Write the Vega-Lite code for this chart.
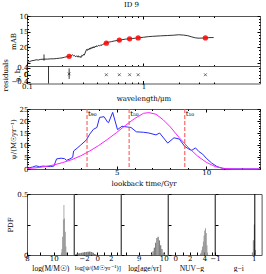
{
"$schema": "https://vega.github.io/schema/vega-lite/v6.json",
"padding": {"left": 0, "top": 0, "right": 2, "bottom": 0},
"title": {"text": "ID 9", "fontSize": 7, "font": "DejaVu Serif", "fontWeight": "normal", "offset": 4, "anchor": "middle"},
"spacing": 2,
"config": {
  "font": "DejaVu Serif",
  "view": {"stroke": "#555", "strokeWidth": 1},
  "axis": {"labelFont": "DejaVu Serif", "titleFont": "DejaVu Serif", "labelFontSize": 7, "titleFontSize": 7, "titleFontWeight": "normal", "labelColor": "#000", "titleColor": "#000", "domain": false, "grid": false, "tickColor": "#000", "tickSize": -3, "labelOverlap": false, "labelFlush": false, "labelBound": false, "labelPadding": 2, "titlePadding": 3}
},
"datasets": {
  "sed": [
    {"w":0.100,"m":24.9},{"w":0.105,"m":24.6},{"w":0.110,"m":24.3},{"w":0.115,"m":24.2},{"w":0.120,"m":24.0},{"w":0.125,"m":24.1},{"w":0.130,"m":23.9},{"w":0.140,"m":23.8},{"w":0.150,"m":23.8},{"w":0.160,"m":23.7},{"w":0.170,"m":23.7},{"w":0.180,"m":23.6},{"w":0.190,"m":23.5},{"w":0.200,"m":23.4},{"w":0.210,"m":23.2},{"w":0.220,"m":23.0},{"w":0.230,"m":22.9},{"w":0.240,"m":22.7},{"w":0.245,"m":22.4},{"w":0.250,"m":22.7},{"w":0.255,"m":22.6},{"w":0.260,"m":23.0},{"w":0.265,"m":22.8},{"w":0.270,"m":23.1},{"w":0.275,"m":22.7},{"w":0.280,"m":23.2},{"w":0.285,"m":22.9},{"w":0.290,"m":23.3},{"w":0.295,"m":22.6},{"w":0.300,"m":22.8},{"w":0.305,"m":22.3},{"w":0.310,"m":22.5},{"w":0.315,"m":21.9},{"w":0.320,"m":21.2},{"w":0.325,"m":20.7},{"w":0.330,"m":21.0},{"w":0.335,"m":20.5},{"w":0.340,"m":20.8},{"w":0.345,"m":20.3},{"w":0.350,"m":20.6},{"w":0.355,"m":20.1},{"w":0.360,"m":20.4},{"w":0.365,"m":19.9},{"w":0.370,"m":20.2},{"w":0.375,"m":19.8},{"w":0.380,"m":20.1},{"w":0.385,"m":19.7},{"w":0.390,"m":19.9},{"w":0.395,"m":19.5},{"w":0.400,"m":19.8},{"w":0.410,"m":19.4},{"w":0.420,"m":19.6},{"w":0.430,"m":19.2},{"w":0.440,"m":19.4},{"w":0.450,"m":19.0},{"w":0.460,"m":18.9},{"w":0.470,"m":18.7},{"w":0.480,"m":18.6},{"w":0.500,"m":18.4},{"w":0.530,"m":18.2},{"w":0.560,"m":18.0},{"w":0.600,"m":17.8},{"w":0.650,"m":17.6},{"w":0.700,"m":17.4},{"w":0.750,"m":17.3},{"w":0.800,"m":17.2},{"w":0.850,"m":17.1},{"w":0.900,"m":17.0},{"w":1.000,"m":16.8},{"w":1.100,"m":16.6},{"w":1.200,"m":16.5},{"w":1.400,"m":16.35},{"w":1.600,"m":16.25},{"w":1.800,"m":16.15},{"w":2.000,"m":16.0},{"w":2.200,"m":16.1},{"w":2.400,"m":16.3},{"w":2.600,"m":16.7},{"w":2.800,"m":17.0},{"w":3.000,"m":17.1},{"w":3.400,"m":17.0},{"w":3.800,"m":16.9},{"w":4.000,"m":16.9}
  ],
  "phot": [
    {"w":0.23,"m":22.9,"r":0.05},{"w":0.48,"m":18.7,"r":0},{"w":0.62,"m":17.7,"r":0},{"w":0.76,"m":17.3,"r":0},{"w":0.90,"m":17.0,"r":0},{"w":3.4,"m":17.0,"r":0}
  ],
  "sfh": [
    {"t":0,"p":0.3},{"t":0.3,"p":0.8},{"t":0.5,"p":1.3},{"t":0.7,"p":1.0},{"t":0.9,"p":1.2},{"t":1.1,"p":1.1},{"t":1.3,"p":1.0},{"t":1.5,"p":1.2},{"t":1.65,"p":4.2},{"t":1.9,"p":4.5},{"t":2.1,"p":4.3},{"t":2.2,"p":3.6},{"t":2.4,"p":4.2},{"t":2.55,"p":4.9},{"t":2.6,"p":7.5},{"t":2.8,"p":8.7},{"t":3.0,"p":10.0},{"t":3.3,"p":12.0},{"t":3.5,"p":14.5},{"t":3.7,"p":16.5},{"t":3.9,"p":17.3},{"t":4.05,"p":21.5},{"t":4.3,"p":21.8},{"t":4.5,"p":19.5},{"t":4.55,"p":19.3},{"t":4.78,"p":23.6},{"t":5.05,"p":16.4},{"t":5.3,"p":17.8},{"t":5.6,"p":17.5},{"t":5.8,"p":17.3},{"t":6.1,"p":15.5},{"t":6.5,"p":15.3},{"t":6.8,"p":15.0},{"t":7.2,"p":14.2},{"t":7.4,"p":15.0},{"t":7.85,"p":10.8},{"t":8.2,"p":13.0},{"t":8.5,"p":12.5},{"t":8.8,"p":9.4},{"t":9.1,"p":8.0},{"t":9.2,"p":7.8},{"t":9.4,"p":8.8},{"t":9.6,"p":7.2},{"t":9.8,"p":6.2},{"t":10.0,"p":4.5},{"t":10.3,"p":2.5},{"t":10.6,"p":1.0},{"t":10.9,"p":0.3},{"t":11.2,"p":0.05},{"t":13,"p":0}
  ],
  "model": [
    {"t":0,"p":0.2},{"t":0.5,"p":0.5},{"t":1,"p":1.0},{"t":1.5,"p":1.7},{"t":2,"p":2.7},{"t":2.5,"p":3.9},{"t":3,"p":5.5},{"t":3.5,"p":7.5},{"t":4,"p":9.8},{"t":4.5,"p":12.4},{"t":5,"p":15.2},{"t":5.5,"p":18.2},{"t":6,"p":21.0},{"t":6.5,"p":23.2},{"t":6.8,"p":23.5},{"t":7.2,"p":22.8},{"t":7.6,"p":20.5},{"t":8,"p":17.5},{"t":8.5,"p":13.0},{"t":9,"p":9.0},{"t":9.5,"p":5.5},{"t":10,"p":2.8},{"t":10.5,"p":1.0},{"t":11,"p":0.2},{"t":11.5,"p":0},{"t":13,"p":0}
  ],
  "tq": [{"t":3.35,"lab":"t₉₀"},{"t":5.7,"lab":"t₅₀"},{"t":8.8,"lab":"t₁₀"}]
},
"vconcat": [
  {"bounds": "flush", "spacing": 0, "vconcat": [
    {"width": 233, "height": 50,
     "resolve": {"axis": {"x": "independent", "y": "independent"}},
     "layer": [
       {"data": {"name": "sed"}, "mark": {"type": "line", "color": "#000", "strokeWidth": 0.8, "clip": true},
        "encoding": {
          "x": {"field": "w", "type": "quantitative", "scale": {"type": "log", "domain": [0.1, 4]}, "axis": {"title": null, "labels": false, "values": [0.1,0.2,0.3,0.4,0.5,0.6,0.7,0.8,0.9,1,2,3,4], "tickSize": {"condition": {"test": "datum.value == 0.1 || datum.value == 1", "value": -3}, "value": -1.5}}},
          "y": {"field": "m", "type": "quantitative", "scale": {"domain": [10, 25], "reverse": true}, "axis": {"title": "mAB", "format": "~g", "values": [10,11,12,13,14,15,16,17,18,19,20,21,22,23,24,25], "labelExpr": "datum.value == 10 || datum.value == 15 || datum.value == 20 ? datum.label : ''", "tickSize": {"condition": {"test": "datum.value % 5 == 0", "value": -3}, "value": -1.5}}}}},
       {"data": {"name": "phot"}, "mark": {"type": "point", "filled": true, "color": "#ff0000", "opacity": 0.85, "size": 28, "shape": "circle"},
        "encoding": {
          "x": {"field": "w", "type": "quantitative", "axis": {"orient": "top", "title": null, "labels": false, "values": [0.1,0.2,0.3,0.4,0.5,0.6,0.7,0.8,0.9,1,2,3,4], "tickSize": {"condition": {"test": "datum.value == 0.1 || datum.value == 1", "value": -3}, "value": -1.5}}},
          "y": {"field": "m", "type": "quantitative", "axis": {"orient": "right", "title": null, "labels": false, "values": [10,11,12,13,14,15,16,17,18,19,20,21,22,23,24,25], "tickSize": {"condition": {"test": "datum.value % 5 == 0", "value": -3}, "value": -1.5}}}}},
       {"data": {"values": [{"w": 0.14, "a": 22.3, "b": 24.3}]}, "mark": {"type": "rule", "color": "#000", "strokeWidth": 0.8},
        "encoding": {"x": {"field": "w", "type": "quantitative", "axis": null}, "y": {"field": "a", "type": "quantitative", "axis": null}, "y2": {"field": "b"}}}
     ]},
    {"width": 233, "height": 17.5,
     "resolve": {"axis": {"y": "independent"}},
     "layer": [
       {"mark": {"type": "rule", "strokeDash": [1, 2], "color": "#000", "strokeWidth": 0.8}, "encoding": {"y": {"datum": 0, "axis": {"orient": "right", "title": null, "labels": false, "values": [-0.4, -0.2, 0, 0.2, 0.4], "tickSize": -1.5}}}},
       {"data": {"values": [{"w": 0.153, "a": -0.5, "b": 0.5}, {"w": 0.23, "a": -0.24, "b": 0.36}]}, "mark": {"type": "rule", "color": "#000", "strokeWidth": 0.8},
        "encoding": {"x": {"field": "w", "type": "quantitative"}, "y": {"field": "a", "type": "quantitative"}, "y2": {"field": "b"}}},
       {"data": {"name": "phot"}, "mark": {"type": "point", "shape": "M-1,-1L1,1M-1,1L1,-1", "color": "#000", "strokeWidth": 0.8, "size": 8},
        "encoding": {
          "x": {"field": "w", "type": "quantitative", "scale": {"type": "log", "domain": [0.1, 4]}, "axis": {"title": "wavelength/μm", "format": "~g", "values": [0.1,0.2,0.3,0.4,0.5,0.6,0.7,0.8,0.9,1,2,3,4], "labelExpr": "datum.value == 0.1 || datum.value == 1 ? datum.label : ''", "tickSize": {"condition": {"test": "datum.value == 0.1 || datum.value == 1", "value": -3}, "value": -1.5}}},
          "y": {"field": "r", "type": "quantitative", "scale": {"domain": [-0.5, 0.5]}, "axis": {"title": "residuals", "format": "~g", "values": [-0.4, -0.2, 0, 0.2, 0.4], "labelExpr": "datum.value == 0 || abs(datum.value) == 0.4 ? datum.label : ''", "tickSize": {"condition": {"test": "datum.value == 0 || abs(datum.value) == 0.4", "value": -3}, "value": -1.5}}}}}
     ]}
  ]},
  {"width": 233, "height": 60,
   "resolve": {"axis": {"x": "independent", "y": "independent"}},
   "layer": [
     {"data": {"name": "sfh"}, "mark": {"type": "line", "color": "#2a2aff", "strokeWidth": 1},
      "encoding": {
        "x": {"field": "t", "type": "quantitative", "scale": {"domain": [0, 13], "nice": false}, "axis": {"title": "lookback time/Gyr", "values": [1,2,3,4,5,6,7,8,9,10,11,12,13], "labelExpr": "datum.value % 5 == 0 ? datum.label : ''", "tickSize": {"condition": {"test": "datum.value % 5 == 0", "value": -3}, "value": -1.5}}},
        "y": {"field": "p", "type": "quantitative", "scale": {"domain": [0, 25], "nice": false}, "axis": {"title": "ψ/(M☉yr⁻¹)", "values": [0,1,2,3,4,5,6,7,8,9,10,11,12,13,14,15,16,17,18,19,20,21,22,23,24,25], "labelExpr": "datum.value % 5 == 0 ? datum.label : ''", "tickSize": {"condition": {"test": "datum.value % 5 == 0", "value": -3}, "value": -1.5}}}}},
     {"data": {"name": "model"}, "mark": {"type": "line", "color": "#ff20ff", "strokeWidth": 1},
      "encoding": {
        "x": {"field": "t", "type": "quantitative", "axis": {"orient": "top", "title": null, "labels": false, "values": [1,2,3,4,5,6,7,8,9,10,11,12,13], "tickSize": {"condition": {"test": "datum.value % 5 == 0", "value": -3}, "value": -1.5}}},
        "y": {"field": "p", "type": "quantitative", "axis": {"orient": "right", "title": null, "labels": false, "values": [0,1,2,3,4,5,6,7,8,9,10,11,12,13,14,15,16,17,18,19,20,21,22,23,24,25], "tickSize": {"condition": {"test": "datum.value % 5 == 0", "value": -3}, "value": -1.5}}}}},
     {"data": {"name": "tq"}, "mark": {"type": "rule", "color": "#ff5050", "strokeDash": [4, 2], "strokeWidth": 1.3, "opacity": 0.8},
      "encoding": {"x": {"field": "t", "type": "quantitative", "axis": null}}},
     {"data": {"name": "tq"}, "mark": {"type": "text", "align": "left", "baseline": "top", "dx": 1, "fontSize": 7, "font": "DejaVu Serif"},
      "encoding": {"x": {"field": "t", "type": "quantitative", "axis": null}, "y": {"datum": 24.5, "axis": null}, "text": {"field": "lab"}}}
   ]},
  {"bounds": "flush", "spacing": 0, "hconcat": [
    {"width": 46.6, "height": 61,
     "data": {"values": [{"a":10.55,"b":10.6,"p":0.02},{"a":10.6,"b":10.65,"p":0.05},{"a":10.65,"b":10.7,"p":0.15},{"a":10.7,"b":10.75,"p":0.29},{"a":10.75,"b":10.8,"p":0.41},{"a":10.8,"b":10.85,"p":0.3},{"a":10.85,"b":10.9,"p":0.19},{"a":10.9,"b":10.95,"p":0.07},{"a":10.95,"b":11.0,"p":0.02}]},
     "mark": {"type": "rect", "color": "#808080"},
     "encoding": {
       "x": {"field": "a", "type": "quantitative", "scale": {"domain": [8, 11.5], "nice": false}, "axis": {"title": "log(M/M☉)", "titleFont": "Liberation Serif", "titleFontSize": 7.5, "format": "~g", "values": [8, 9, 10, 11], "labelExpr": "datum.value % 2 == 0 ? datum.label : ''"}},
       "x2": {"field": "b"},
       "y": {"field": "p", "type": "quantitative", "scale": {"domain": [0, 0.5], "nice": false}, "axis": {"title": "PDF", "format": "~g", "values": [0, 0.25, 0.5], "labelExpr": "datum.value == 0.25 ? '' : datum.label"}},
       "y2": {"datum": 0}}},
    {"width": 46.6, "height": 61,
     "data": {"values": [{"a":-3.5,"b":-3.25,"p":0.005},{"a":-3.25,"b":-3.0,"p":0.01},{"a":-3.0,"b":-2.75,"p":0.012},{"a":-2.75,"b":-2.5,"p":0.015},{"a":-2.5,"b":-2.25,"p":0.018},{"a":-2.25,"b":-2.0,"p":0.02},{"a":-2.0,"b":-1.75,"p":0.022},{"a":-1.75,"b":-1.5,"p":0.025},{"a":-1.5,"b":-1.25,"p":0.027},{"a":-1.25,"b":-1.0,"p":0.028},{"a":-1.0,"b":-0.75,"p":0.025},{"a":-0.75,"b":-0.5,"p":0.018},{"a":-0.5,"b":-0.25,"p":0.008},{"a":-0.25,"b":0,"p":0.002}]},
     "mark": {"type": "rect", "color": "#808080"},
     "encoding": {
       "x": {"field": "a", "type": "quantitative", "scale": {"domain": [-3.5, 3.5], "nice": false}, "axis": {"title": "log[ψ/(M☉yr⁻¹)]", "titleFont": "Liberation Serif", "titleFontSize": 6.5, "format": "~g", "values": [-3, -2, -1, 0, 1, 2, 3], "labelExpr": "datum.value % 2 == 0 ? datum.label : ''"}},
       "x2": {"field": "b"},
       "y": {"field": "p", "type": "quantitative", "scale": {"domain": [0, 0.5], "nice": false}, "axis": {"title": null, "labels": false, "values": [0, 0.25, 0.5]}},
       "y2": {"datum": 0}}},
    {"width": 46.6, "height": 61,
     "data": {"values": [{"a":9.5,"b":9.55,"p":0.01},{"a":9.55,"b":9.6,"p":0.03},{"a":9.6,"b":9.65,"p":0.06},{"a":9.65,"b":9.7,"p":0.1},{"a":9.7,"b":9.75,"p":0.14},{"a":9.75,"b":9.8,"p":0.15},{"a":9.8,"b":9.85,"p":0.12},{"a":9.85,"b":9.9,"p":0.08},{"a":9.9,"b":9.95,"p":0.05},{"a":9.95,"b":10.0,"p":0.02},{"a":10.0,"b":10.05,"p":0.01}]},
     "mark": {"type": "rect", "color": "#808080"},
     "encoding": {
       "x": {"field": "a", "type": "quantitative", "scale": {"domain": [8.3, 10.15], "nice": false}, "axis": {"title": "log[age/yr]", "titleFont": "Liberation Serif", "titleFontSize": 7.5, "format": "~g", "values": [8.5, 9, 9.5, 10], "labelExpr": "datum.value % 1 == 0 ? datum.label : ''"}},
       "x2": {"field": "b"},
       "y": {"field": "p", "type": "quantitative", "scale": {"domain": [0, 0.5], "nice": false}, "axis": {"title": null, "labels": false, "values": [0, 0.25, 0.5]}},
       "y2": {"datum": 0}}},
    {"width": 46.6, "height": 61,
     "data": {"values": [{"a":3.4,"b":3.5,"p":0.01},{"a":3.5,"b":3.6,"p":0.02},{"a":3.6,"b":3.7,"p":0.04},{"a":3.7,"b":3.8,"p":0.07},{"a":3.8,"b":3.9,"p":0.11},{"a":3.9,"b":4.0,"p":0.16},{"a":4.0,"b":4.1,"p":0.2},{"a":4.1,"b":4.2,"p":0.22},{"a":4.2,"b":4.3,"p":0.18},{"a":4.3,"b":4.4,"p":0.08},{"a":4.4,"b":4.5,"p":0.02}]},
     "mark": {"type": "rect", "color": "#808080"},
     "encoding": {
       "x": {"field": "a", "type": "quantitative", "scale": {"domain": [-1, 5.4], "nice": false}, "axis": {"title": "NUV−g", "titleFont": "Liberation Serif", "titleFontSize": 7.5, "format": "~g", "values": [0, 1, 2, 3, 4, 5], "labelExpr": "datum.value % 2 == 0 ? datum.label : ''"}},
       "x2": {"field": "b"},
       "y": {"field": "p", "type": "quantitative", "scale": {"domain": [0, 0.5], "nice": false}, "axis": {"title": null, "labels": false, "values": [0, 0.25, 0.5]}},
       "y2": {"datum": 0}}},
    {"width": 46.6, "height": 61,
     "layer": [
       {"data": {"values": [{"a":0.9,"b":0.95,"p":0.02},{"a":0.95,"b":1.0,"p":0.12},{"a":1.0,"b":1.05,"p":0.25},{"a":1.05,"b":1.1,"p":0.04}]},
        "mark": {"type": "rect", "color": "#808080"},
        "encoding": {
          "x": {"field": "a", "type": "quantitative", "scale": {"domain": [-1, 1.4], "nice": false}, "axis": {"title": "g−i", "titleFont": "Liberation Serif", "titleFontSize": 7.5, "format": "~g", "values": [-1, -0.5, 0, 0.5, 1], "labelExpr": "datum.value % 1 == 0 ? datum.label : ''"}},
          "x2": {"field": "b"},
          "y": {"field": "p", "type": "quantitative", "scale": {"domain": [0, 0.5], "nice": false}, "axis": {"title": null, "labels": false, "values": [0, 0.25, 0.5]}},
          "y2": {"datum": 0}}},
       {"data": {"values": [{"a": 1.05}]}, "mark": {"type": "rule", "color": "#000", "strokeWidth": 1}, "encoding": {"x": {"field": "a", "type": "quantitative"}}}
     ]}
  ]}
]
}
